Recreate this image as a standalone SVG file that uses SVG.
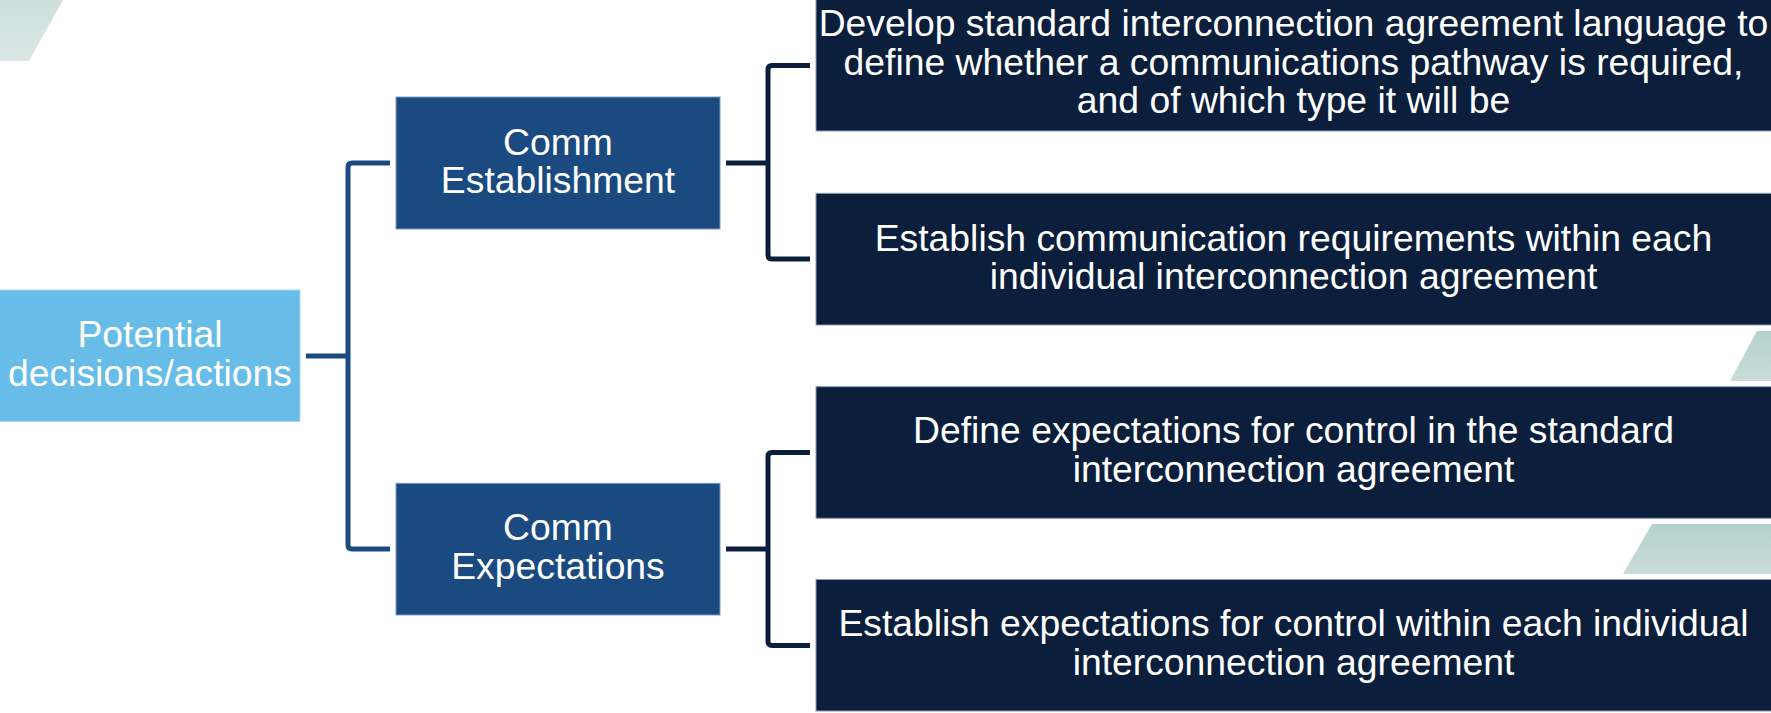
<svg xmlns="http://www.w3.org/2000/svg" width="1771" height="713" viewBox="0 0 1771 713">
<style>
  text { font-family: "Liberation Sans", Arial, sans-serif; font-size: 37.3px; fill: #ffffff; text-anchor: middle; }
  .root { fill: #67bde8; stroke: #a9d8f2; stroke-width: 1; }
  .mid { fill: #1a4a80; stroke: #7f9cc0; stroke-width: 1; }
  .leaf { fill: #0b1f3c; stroke: #8d9bb0; stroke-width: 1; }
  .c1 { fill: none; stroke: #1b4a80; stroke-width: 5; stroke-linejoin: round; }
  .c2 { fill: none; stroke: #0b1f3c; stroke-width: 5; stroke-linejoin: round; }
</style>
<defs>
  <linearGradient id="gA" x1="0" y1="0" x2="0" y2="1">
    <stop offset="0" stop-color="#cddfdb"/>
    <stop offset="1" stop-color="#dbe7e5"/>
  </linearGradient>
  <linearGradient id="gB" x1="0" y1="0" x2="0" y2="1">
    <stop offset="0" stop-color="#b5d1cb"/>
    <stop offset="1" stop-color="#c9dcd8"/>
  </linearGradient>
</defs>
<rect width="1771" height="713" fill="#ffffff"/>
<g id="decor">
  <polygon points="0,0 63,0 29,61 0,61" fill="url(#gA)"/>
  <polygon points="1757,331 1771,331 1771,381 1730,381" fill="url(#gB)"/>
  <polygon points="1652,524 1771,524 1771,574 1623,574" fill="url(#gB)"/>
</g>
<g id="connectors">
  <path class="c1" d="M306,356 H348"/>
  <path class="c1" d="M390,163 H352 Q348,163 348,167 V545 Q348,549 352,549 H390"/>
  <path class="c2" d="M726,163 H768"/>
  <path class="c2" d="M810,65.5 H772 Q768,65.5 768,69.5 V255 Q768,259 772,259 H810"/>
  <path class="c2" d="M726,549 H768"/>
  <path class="c2" d="M810,452.5 H772 Q768,452.5 768,456.5 V641.5 Q768,645.5 772,645.5 H810"/>
</g>
<g id="node-potential">
  <rect class="root" x="-1" y="290" width="301" height="131.5"/>
  <text x="150" y="346.7">Potential</text>
  <text x="150" y="386">decisions/actions</text>
</g>
<g id="node-comm-establishment">
  <rect class="mid" x="396" y="97" width="324" height="132"/>
  <text x="558" y="155">Comm</text>
  <text x="558" y="193">Establishment</text>
</g>
<g id="node-comm-expectations">
  <rect class="mid" x="396" y="483.3" width="324" height="131.7"/>
  <text x="558" y="540.3">Comm</text>
  <text x="558" y="578.7">Expectations</text>
</g>
<g id="node-develop-standard">
  <rect class="leaf" x="816" y="-1" width="960" height="132"/>
  <text x="1293.5" y="36">Develop standard interconnection agreement language to</text>
  <text x="1293.5" y="74.6">define whether a communications pathway is required,</text>
  <text x="1293.5" y="113.2">and of which type it will be</text>
</g>
<g id="node-establish-communication">
  <rect class="leaf" x="816" y="193.3" width="960" height="131.7"/>
  <text x="1293.5" y="250.7">Establish communication requirements within each</text>
  <text x="1293.5" y="288.7">individual interconnection agreement</text>
</g>
<g id="node-define-expectations">
  <rect class="leaf" x="816" y="386.7" width="960" height="131.6"/>
  <text x="1293.5" y="443.3">Define expectations for control in the standard</text>
  <text x="1293.5" y="482">interconnection agreement</text>
</g>
<g id="node-establish-expectations">
  <rect class="leaf" x="816" y="579.5" width="960" height="131.5"/>
  <text x="1293.5" y="636">Establish expectations for control within each individual</text>
  <text x="1293.5" y="675.3">interconnection agreement</text>
</g>
</svg>
